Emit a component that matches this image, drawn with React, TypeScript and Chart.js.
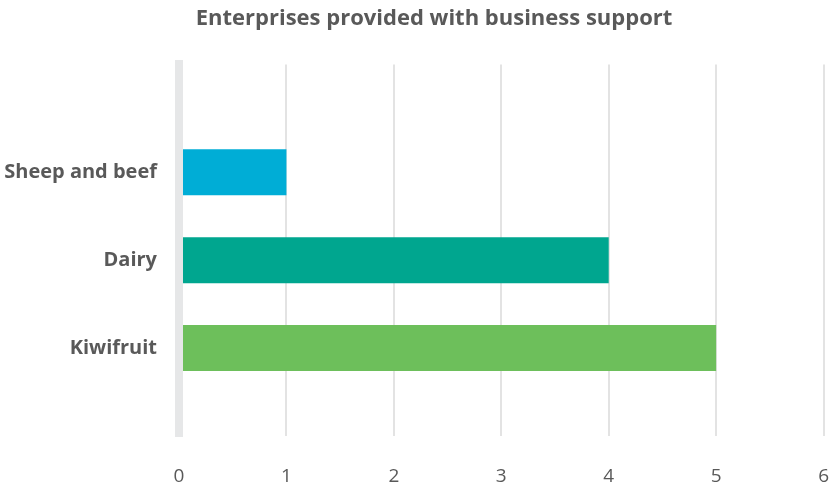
import React, { useEffect, useRef } from "react";
import { Chart, registerables } from "chart.js";

Chart.register(...registerables);

const TITLE = "Enterprises provided with business support";
const categories = ["Sheep and beef", "Dairy", "Kiwifruit"];
const values = [1, 4, 5];
const barColors = ["#00ADD6", "#00A68F", "#6DBF5B"];
const xTicks = [0, 1, 2, 3, 4, 5, 6];

const titleShift = {
  id: "titleShift",
  afterLayout(chart: any) {
    const t = chart.titleBlock;
    if (t) t.left += 38;
  },
};

export default function App() {
  const ref = useRef<HTMLCanvasElement | null>(null);

  useEffect(() => {
    document.body.style.margin = "0";
    const canvas = ref.current;
    if (!canvas) return;
    const chart = new Chart(canvas, {
      type: "bar",
      data: {
        datasets: [
          {
            data: values.map((v, i) => ({ x: v, y: i })),
            backgroundColor: barColors,
            borderWidth: 0,
            categoryPercentage: 1,
            barPercentage: 0.523,
          },
        ],
      },
      plugins: [titleShift],
      options: {
        indexAxis: "y",
        responsive: false,
        animation: false,
        layout: { padding: 0 },
        plugins: {
          legend: { display: false },
          tooltip: { enabled: false },
          title: {
            display: true,
            text: TITLE,
            color: "#595959",
            font: { family: "'Open Sans'", size: 22, weight: "bold" },
            padding: { top: 6, bottom: 32 },
          },
        },
        scales: {
          x: {
            type: "linear",
            min: xTicks[0],
            max: xTicks[xTicks.length - 1],
            afterBuildTicks: (scale: any) => {
              scale.ticks = xTicks.map((v) => ({ value: v }));
            },
            afterFit: (scale: any) => {
              scale.height = 52;
            },
            grid: {
              color: "#e3e3e3",
              lineWidth: 2,
              drawTicks: true,
              tickLength: 28,
              tickColor: "rgba(0,0,0,0)",
            },
            border: { display: false },
            ticks: {
              color: "#595959",
              padding: 1,
              font: { family: "'Open Sans'", size: 19 },
            },
          },
          y: {
            type: "linear",
            reverse: true,
            offset: false,
            min: -1.227,
            max: 3,
            afterBuildTicks: (scale: any) => {
              scale.ticks = categories.map((_, i) => ({ value: i }));
            },
            afterFit: (scale: any) => {
              scale.width = 179;
            },
            grid: { display: false, drawTicks: false, offset: false },
            border: { display: true, color: "#e6e7e8", width: 8, z: 1 },
            ticks: {
              color: "#595959",
              padding: 22,
              font: { family: "'Open Sans'", size: 20, weight: "bold" },
              callback: (v: any) => categories[v as number] ?? "",
            },
          },
        },
      },
    });
    return () => chart.destroy();
  }, []);

  return (
    <div style={{ width: 830, height: 488 }}>
      <canvas ref={ref} width={830} height={488} />
    </div>
  );
}
